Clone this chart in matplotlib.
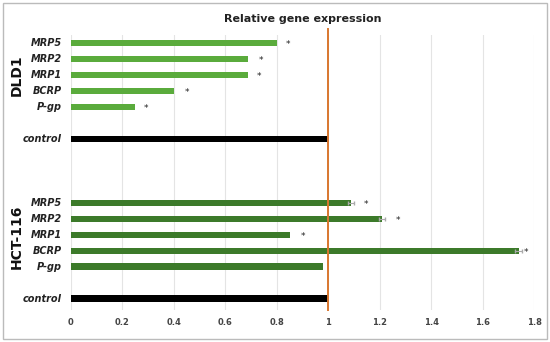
import matplotlib.pyplot as plt
from matplotlib.patches import Rectangle

genes = ["MRP5", "MRP2", "MRP1", "BCRP", "P-gp", "", "control"]
dld1_values = [0.80, 0.69, 0.69, 0.40, 0.25, None, 1.0]
dld1_stars = [0.845, 0.74, 0.73, 0.45, 0.29, None, None]
hct_values = [1.09, 1.21, 0.85, 1.74, 0.98, None, 1.0]
hct_errors = [0.012, 0.012, 0.0, 0.015, 0.0, None, 0.0]
hct_stars = [1.148, 1.27, 0.90, 1.77, None, None, None]
gap_rows = 3

green_light = "#5aab3c"
green_dark = "#3c7a2a"

fig = plt.figure(figsize=(5.5, 3.42), dpi=100)
ax = fig.add_axes([0.129, 0.094, 0.842, 0.804])

# row positions (top to bottom)
dld1_y = list(range(len(genes)))
hct_y = [len(genes) + gap_rows + i for i in range(len(genes))]
star_dy = 0.12  # asterisk glyph sits high, nudge it down onto the bar

for i, g in enumerate(genes):
    if dld1_values[i] is not None:
        col = "black" if g == "control" else green_light
        ax.barh(dld1_y[i], dld1_values[i], height=0.4, color=col, zorder=3)
        ax.text(-0.035, dld1_y[i], g, ha="right", va="center", fontsize=7,
                fontstyle="italic", fontweight="bold", color="#222222")
    if dld1_stars[i] is not None:
        ax.text(dld1_stars[i], dld1_y[i] + star_dy, "*", ha="center", va="center",
                fontsize=6.5, color="#222222")
    if hct_values[i] is not None:
        col = "black" if g == "control" else green_dark
        ax.barh(hct_y[i], hct_values[i], height=0.4, color=col, zorder=3)
        if hct_errors[i]:
            ax.errorbar(hct_values[i], hct_y[i], xerr=hct_errors[i], fmt="none",
                        ecolor="#aaaaaa", elinewidth=0.8, capsize=1.5, zorder=4)
        ax.text(-0.035, hct_y[i], g, ha="right", va="center", fontsize=7,
                fontstyle="italic", fontweight="bold", color="#222222")
    if hct_stars[i] is not None:
        ax.text(hct_stars[i], hct_y[i] + star_dy, "*", ha="center", va="center",
                fontsize=6.5, color="#222222")

ax.axvline(1.0, color="#d9772f", linewidth=1.4, zorder=5, ymin=0, ymax=1.02,
           clip_on=False)

ax.set_xlim(0, 1.8)
ax.set_ylim(hct_y[-1] + 0.7, -0.5)
ax.set_xticks([0, 0.2, 0.4, 0.6, 0.8, 1, 1.2, 1.4, 1.6, 1.8])
ax.set_xticklabels(["0", "0.2", "0.4", "0.6", "0.8", "1", "1.2", "1.4", "1.6", "1.8"],
                   fontsize=6, fontweight="bold", color="#444444")
ax.set_yticks([])
ax.tick_params(axis="x", length=0, pad=6)
ax.grid(axis="x", color="#e4e4e4", linewidth=0.8, zorder=0)
for s in ax.spines.values():
    s.set_visible(False)

ax.text(0.5, 1.04, "Relative gene expression", transform=ax.transAxes,
        ha="center", va="bottom", fontsize=8, fontweight="bold", color="#222222")

fig.text(0.031, 0.78, "DLD1", rotation=90, ha="center", va="center",
         fontsize=10, fontweight="bold", color="#111111")
fig.text(0.031, 0.307, "HCT-116", rotation=90, ha="center", va="center",
         fontsize=10, fontweight="bold", color="#111111")

fig.patches.append(Rectangle((0.006, 0.01), 0.988, 0.98, transform=fig.transFigure,
                             fill=False, edgecolor="#bbbbbb", linewidth=1))

fig.savefig("out.png", dpi=100)
